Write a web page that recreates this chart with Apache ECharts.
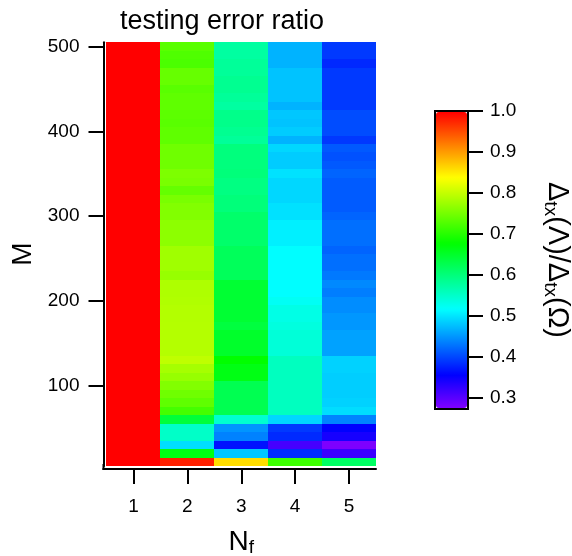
<!DOCTYPE html>
<html>
<head>
<meta charset="utf-8">
<script src="https://cdn.jsdelivr.net/npm/echarts@6/dist/echarts.min.js"></script>
<style>
html,body{margin:0;padding:0;background:#fff;}
#chart{width:572px;height:556px;}
</style>
</head>
<body>
<div id="chart"></div>
<script>
// ---- data ----
const nfCategories = ['1', '2', '3', '4', '5'];
const mCategories = ['10','20','30','40','50','60','70','80','90','100',
  '110','120','130','140','150','160','170','180','190','200',
  '210','220','230','240','250','260','270','280','290','300',
  '310','320','330','340','350','360','370','380','390','400',
  '410','420','430','440','450','460','470','480','490','500'];
// error ratio per M (ascending), one array per N_f
const ratioNf1 = [1,1,1,1,1,1,1,1,1,1, 1,1,1,1,1,1,1,1,1,1, 1,1,1,1,1,1,1,1,1,1,
  1,1,1,1,1,1,1,1,1,1, 1,1,1,1,1,1,1,1,1,1];
const ratioNf2 = [0.98,0.665,0.495,0.55,0.55,0.64,0.72,0.737,0.747,0.759,
  0.772,0.782,0.798,0.791,0.791,0.791,0.791,0.79,0.79,0.788,
  0.787,0.787,0.772,0.778,0.778,0.778,0.766,0.766,0.766,0.759,
  0.759,0.753,0.74,0.753,0.756,0.747,0.747,0.747,0.737,0.737,
  0.733,0.735,0.737,0.737,0.733,0.741,0.741,0.724,0.727,0.733];
const ratioNf3 = [0.86,0.48,0.365,0.436,0.448,0.545,0.626,0.626,0.626,0.626,
  0.664,0.664,0.677,0.65,0.65,0.65,0.637,0.645,0.645,0.645,
  0.645,0.645,0.62,0.62,0.62,0.62,0.61,0.61,0.61,0.61,
  0.60,0.60,0.595,0.595,0.60,0.598,0.598,0.598,0.58,0.585,
  0.59,0.59,0.575,0.58,0.585,0.585,0.58,0.58,0.575,0.575];
const ratioNf4 = [0.715,0.38,0.31,0.38,0.39,0.49,0.556,0.556,0.556,0.556,
  0.556,0.556,0.556,0.54,0.54,0.54,0.536,0.531,0.531,0.522,
  0.515,0.515,0.515,0.515,0.515,0.515,0.506,0.506,0.506,0.496,
  0.496,0.49,0.49,0.49,0.497,0.483,0.483,0.49,0.467,0.483,
  0.477,0.48,0.467,0.477,0.477,0.477,0.477,0.467,0.467,0.467];
const ratioNf5 = [0.615,0.316,0.275,0.34,0.354,0.437,0.494,0.487,0.484,0.484,
  0.484,0.487,0.487,0.456,0.456,0.456,0.449,0.449,0.443,0.443,
  0.433,0.44,0.43,0.424,0.424,0.417,0.424,0.424,0.424,0.417,
  0.411,0.411,0.411,0.411,0.417,0.41,0.405,0.41,0.389,0.402,
  0.402,0.402,0.39,0.39,0.39,0.39,0.39,0.379,0.39,0.39];
const colorbarTicks = [0.3, 0.4, 0.5, 0.6, 0.7, 0.8, 0.9, 1.0];
const colorMin = 0.273, colorMax = 1.0;

const allCols = [ratioNf1, ratioNf2, ratioNf3, ratioNf4, ratioNf5];
const heatData = [];
allCols.forEach((col, xi) => col.forEach((v, yi) => heatData.push([xi, yi, v])));

const FONT = 'Liberation Sans, Arial, Helvetica, sans-serif';
const chart = echarts.init(document.getElementById('chart'), null, {renderer: 'canvas'});

function renderCell(params, api) {
  const c = api.coord([api.value(0), api.value(1)]);
  const s = api.size([1, 1]);
  const x0 = Math.round(c[0] - s[0] / 2), x1 = Math.round(c[0] + s[0] / 2);
  const y0 = Math.round(c[1] - s[1] / 2), y1 = Math.round(c[1] + s[1] / 2);
  return {
    type: 'rect',
    shape: {x: x0, y: y0, width: x1 - x0, height: y1 - y0},
    style: {fill: api.visual('color')}
  };
}

chart.setOption({
  animation: false,
  backgroundColor: '#fff',
  title: {
    text: 'testing error ratio',
    left: 115, top: 3,
    textStyle: {fontFamily: FONT, fontSize: 27, fontWeight: 'normal', color: '#000'}
  },
  grid: [
    {left: 106.5, top: 42.3, width: 269.5, height: 423.7, show: false, containLabel: false, outerBoundsMode: 'none'},
    {left: 435, top: 111, width: 33, height: 298, show: true, borderColor: '#000', borderWidth: 2,
      backgroundColor: 'transparent', z: 10, containLabel: false, outerBoundsMode: 'none'}
  ],
  graphic: [
    {type: 'line', shape: {x1: 103.5, y1: 464, x2: 103.5, y2: 470}, style: {stroke: '#000', lineWidth: 2}},
    {type: 'line', shape: {x1: 102.5, y1: 469, x2: 108, y2: 469}, style: {stroke: '#000', lineWidth: 2}}
  ],
  xAxis: [
    {
      type: 'category', gridIndex: 0, data: nfCategories, offset: 3,
      axisLine: {show: true, lineStyle: {color: '#000', width: 2}},
      axisTick: {show: true, alignWithLabel: true, length: 15, lineStyle: {color: '#000', width: 2}},
      axisLabel: {fontFamily: FONT, fontSize: 19, color: '#000', margin: 28},
      splitLine: {show: false}, splitArea: {show: false},
      name: '{b|N}{s|f}', nameLocation: 'middle', nameGap: 58,
      nameTextStyle: {rich: {
        b: {fontFamily: FONT, fontSize: 28, color: '#000', lineHeight: 30},
        s: {fontFamily: FONT, fontSize: 19, color: '#000', lineHeight: 14, verticalAlign: 'bottom'}
      }}
    },
    {type: 'category', gridIndex: 1, data: ['c'], show: false}
  ],
  yAxis: [
    {
      type: 'category', gridIndex: 0, data: mCategories, offset: 3,
      axisLine: {show: true, lineStyle: {color: '#000', width: 2}},
      axisTick: {show: true, alignWithLabel: true, length: 15, lineStyle: {color: '#000', width: 2},
        interval: (i) => (i + 1) % 10 === 0},
      axisLabel: {fontFamily: FONT, fontSize: 19, color: '#000', margin: 24,
        interval: (i) => (i + 1) % 10 === 0},
      splitLine: {show: false}, splitArea: {show: false},
      name: 'M', nameLocation: 'middle', nameGap: 66,
      nameTextStyle: {fontFamily: FONT, fontSize: 28, color: '#000'}
    },
    {
      type: 'value', gridIndex: 1, position: 'right', min: colorMin, max: colorMax,
      axisLine: {show: false},
      axisTick: {show: true, length: 15, lineStyle: {color: '#000', width: 2}, customValues: colorbarTicks},
      axisLabel: {fontFamily: FONT, fontSize: 19, color: '#000', margin: 22, customValues: colorbarTicks,
        formatter: (v) => v.toFixed(1)},
      splitLine: {show: false},
      name: '{b|Δ}{s|tx}{b|(Λ)/Δ}{s|tx}{b|(Ω)}', nameLocation: 'middle', nameRotate: -90, nameGap: 73,
      nameTextStyle: {rich: {
        b: {fontFamily: FONT, fontSize: 29, color: '#000', lineHeight: 32},
        s: {fontFamily: FONT, fontSize: 19, color: '#000', lineHeight: 15, verticalAlign: 'bottom'}
      }}
    }
  ],
  visualMap: {
    type: 'continuous', min: colorMin, max: colorMax, seriesIndex: 0,
    show: true, calculable: false, orient: 'vertical',
    left: 436, top: 112, itemWidth: 31, itemHeight: 296, padding: 0,
    hoverLink: false,
    inRange: {color: ['#8000ff','#0000ff','#0080ff','#00ffff','#00ff80','#00ff00','#80ff00','#ffff00','#ff8000','#ff0000']}
  },
  series: [{
    type: 'custom', xAxisIndex: 0, yAxisIndex: 0, data: heatData,
    renderItem: renderCell, encode: {x: 0, y: 1}
  }]
});
</script>
</body>
</html>
